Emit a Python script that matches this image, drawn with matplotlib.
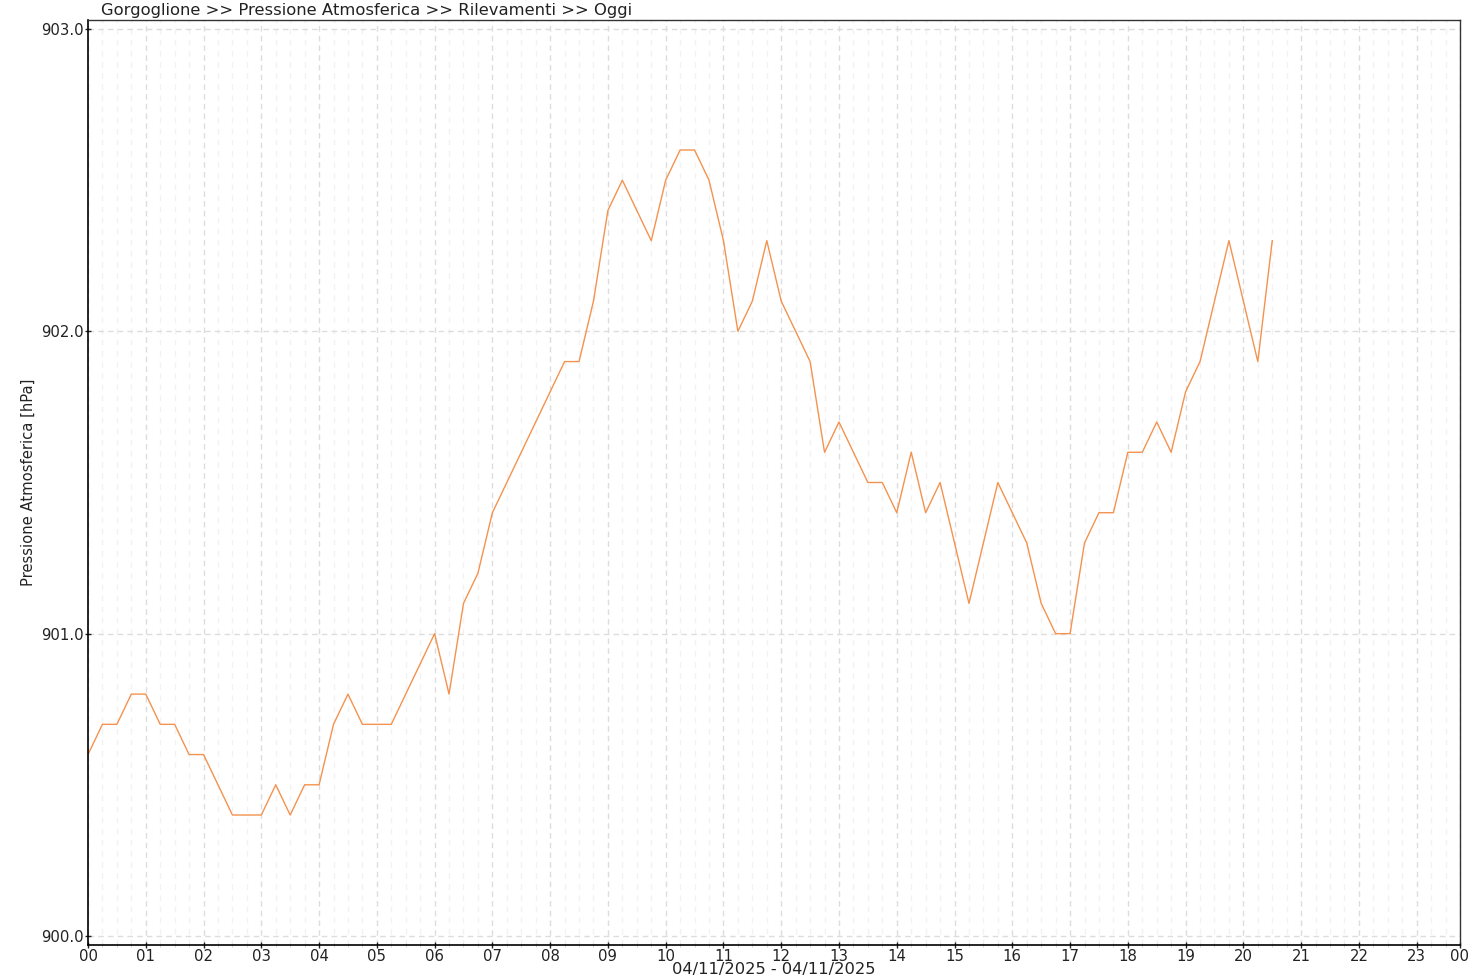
import matplotlib
matplotlib.use("Agg")
import matplotlib.pyplot as plt
from matplotlib.ticker import MultipleLocator

hours = [i * 0.25 for i in range(83)]  # 00:00 .. 20:30 every 15 min
pressure = [
    900.6, 900.7, 900.7, 900.8, 900.8, 900.7, 900.7, 900.6,   # 00:00-01:45
    900.6, 900.5, 900.4, 900.4, 900.4, 900.5, 900.4, 900.5,   # 02:00-03:45
    900.5, 900.7, 900.8, 900.7, 900.7, 900.7, 900.8, 900.9,   # 04:00-05:45
    901.0, 900.8, 901.1, 901.2, 901.4, 901.5, 901.6, 901.7,   # 06:00-07:45
    901.8, 901.9, 901.9, 902.1, 902.4, 902.5, 902.4, 902.3,   # 08:00-09:45
    902.5, 902.6, 902.6, 902.5, 902.3, 902.0, 902.1, 902.3,   # 10:00-11:45
    902.1, 902.0, 901.9, 901.6, 901.7, 901.6, 901.5, 901.5,   # 12:00-13:45
    901.4, 901.6, 901.4, 901.5, 901.3, 901.1, 901.3, 901.5,   # 14:00-15:45
    901.4, 901.3, 901.1, 901.0, 901.0, 901.3, 901.4, 901.4,   # 16:00-17:45
    901.6, 901.6, 901.7, 901.6, 901.8, 901.9, 902.1, 902.3,   # 18:00-19:45
    902.1, 901.9, 902.3,                                      # 20:00-20:30
]
x_tick_pos = list(range(24)) + [23.75]
x_tick_labels = [f"{h:02d}" for h in range(24)] + ["00"]
y_ticks = [900.0, 901.0, 902.0, 903.0]

title = "Gorgoglione >> Pressione Atmosferica >> Rilevamenti >> Oggi"
xlabel = "04/11/2025 - 04/11/2025"
ylabel = "Pressione Atmosferica [hPa]"

plt.rcParams['font.family'] = ['DejaVu Sans']
fig = plt.figure(figsize=(14.8, 9.8), dpi=100)
ax = fig.add_axes([88/1480, 35/980, 1372/1480, 925/980])

ax.plot(hours, pressure, color='#F4924F', linewidth=1.0)

ax.set_xlim(0, 23.75)
ax.set_ylim(899.97, 903.03)
ax.set_xticks(x_tick_pos)
ax.set_xticklabels(x_tick_labels)
ax.xaxis.set_minor_locator(MultipleLocator(0.25))
ax.set_yticks(y_ticks)
ax.set_yticklabels([f"{v:.1f}" for v in y_ticks])

ax.grid(which='major', axis='both', color='#dddddd', linestyle=(0, (4, 3)), linewidth=1.0)
ax.grid(which='minor', axis='x', color='#f2f2f2', linestyle=(0, (4, 4)), linewidth=1.0)
ax.set_axisbelow(True)

ax.tick_params(axis='both', which='major', labelsize=10.7, colors='#222222', length=4, width=1, direction='inout', pad=1)
ax.tick_params(axis='x', which='minor', length=3, color='#cccccc', direction='inout')
for side in ['left', 'bottom']:
    ax.spines[side].set_color('#000000')
    ax.spines[side].set_linewidth(1.2)
for side in ['top', 'right']:
    ax.spines[side].set_color('#333333')
    ax.spines[side].set_linewidth(1.0)

ax.set_ylabel(ylabel, fontsize=10.6, color='#222222', labelpad=4)
fig.text(101/1480, 1 - 10/980, title, fontsize=11.8, color='#222222', ha='left', va='center')
fig.text(774/1480, 1 - 969/980, xlabel, fontsize=11.7, color='#222222', ha='center', va='center')

fig.savefig("out.png", dpi=100)
